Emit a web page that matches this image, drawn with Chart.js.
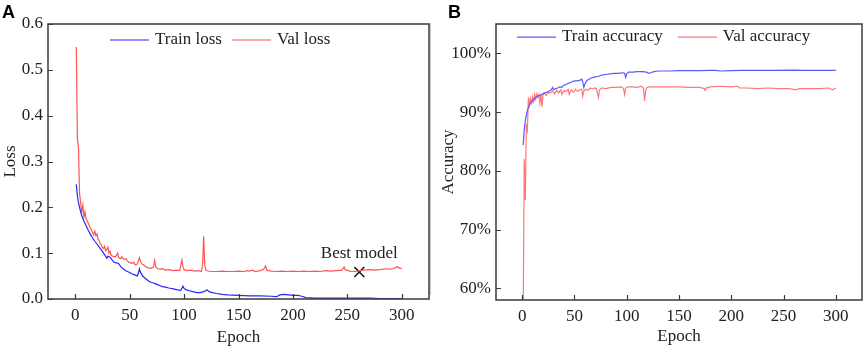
<!DOCTYPE html>
<html>
<head>
<meta charset="utf-8">
<script src="https://cdn.jsdelivr.net/npm/chart.js@4.4.0/dist/chart.umd.min.js"></script>
<style>
  html, body { margin: 0; padding: 0; background: #fff; }
  #wrap { position: relative; width: 865px; height: 348px; overflow: hidden; }
  canvas { position: absolute; top: 0; }
  #lossCanvas { left: 0; }
  #accCanvas { left: 430px; }
  .tag { position: absolute; top: 3px; font: bold 18px "Liberation Sans", Arial, sans-serif; line-height: 1; color: #000; }
  #sep { position: absolute; left: 430px; top: 23px; width: 1px; height: 272px; background: #c8c8c8; }
</style>
</head>
<body>
<div id="wrap">
  <canvas id="lossCanvas" width="430" height="348"></canvas>
  <canvas id="accCanvas" width="435" height="348"></canvas>
  <div id="sep"></div>
  <div class="tag" style="left:2px">A</div>
  <div class="tag" style="left:448px">B</div>
</div>
<script>
// ---- data ----
const epochTicks = [0, 50, 100, 150, 200, 250, 300];
const lossTicks = [0, 0.1, 0.2, 0.3, 0.4, 0.5, 0.6];
const accTicks = [60, 70, 80, 90, 100];

const trainLossEpochs = [
  1, 2, 3, 4, 5, 6, 7, 8, 10, 12,
  14, 16, 18, 20, 22, 24, 26, 28, 29, 30,
  32, 34, 36, 38, 40, 42, 44, 46, 48, 50,
  52, 55, 57, 58, 59, 60, 62, 64, 66, 68,
  70, 72, 75, 78, 80, 83, 86, 90, 94, 97,
  99, 100, 102, 105, 108, 112, 115, 118, 120, 121,
  123, 126, 130, 135, 140, 150, 160, 170, 180, 185,
  188, 192, 196, 200, 205, 208, 212, 220, 230, 240,
  250, 260, 270, 280, 290, 300
];
const trainLoss = [
  .25, .225, .21, .2, .19, .182, .176, .17, .16, .15,
  .141, .133, .126, .12, .113, .107, .1, .093, .089, .093,
  .091, .085, .08, .079, .077, .07, .066, .062, .06, .058,
  .055, .052, .05, .056, .066, .058, .05, .046, .042, .038,
  .036, .035, .032, .029, .027, .026, .024, .022, .02, .019,
  .028, .023, .02, .018, .016, .014, .014, .016, .018, .02,
  .016, .014, .012, .01, .009, .008, .007, .007, .006, .005,
  .009, .01, .009, .008, .008, .006, .003, .002, .002, .002,
  .002, .002, .002, .001, .001, .001
];

const valLossEpochs = [
  1, 2, 3, 4, 5, 6, 7, 8, 9, 10,
  11, 12, 13, 14, 15, 16, 17, 18, 19, 20,
  21, 22, 23, 24, 25, 26, 27, 28, 29, 30,
  31, 32, 33, 35, 37, 39, 40, 42, 43, 45,
  47, 48, 50, 52, 54, 55, 57, 59, 60, 61,
  63, 65, 67, 70, 72, 73, 74, 76, 78, 80,
  83, 86, 90, 93, 96, 98, 99, 100, 103, 106,
  110, 113, 116, 117, 118, 119, 120, 122, 125, 130,
  135, 140, 145, 150, 155, 158, 160, 163, 165, 170,
  173, 175, 176, 180, 185, 190, 195, 200, 205, 210,
  215, 220, 225, 230, 235, 240, 245, 247, 248, 252,
  256, 260, 265, 270, 275, 280, 285, 290, 294, 296,
  298, 300
];
const valLoss = [
  .55, .35, .33, .23, .21, .19, .205, .18, .19, .175,
  .17, .165, .16, .155, .15, .145, .14, .148, .138, .142,
  .13, .128, .12, .118, .112, .11, .115, .105, .108, .113,
  .1, .104, .095, .093, .092, .1, .09, .088, .092, .086,
  .088, .082, .08, .078, .08, .074, .076, .09, .082, .077,
  .074, .07, .068, .067, .07, .084, .07, .066, .065, .066,
  .063, .064, .062, .063, .062, .085, .07, .064, .062, .063,
  .061, .062, .06, .075, .137, .075, .063, .061, .06, .06,
  .061, .06, .06, .061, .06, .062, .061, .063, .06, .062,
  .065, .072, .063, .061, .06, .061, .06, .061, .06, .061,
  .06, .061, .06, .062, .061, .062, .063, .07, .064, .061,
  .06, .061, .063, .064, .063, .064, .066, .065, .068, .071,
  .067, .067
];

const bestEpoch = [261];
const bestLoss = [0.059];
const bestModelLabel = "Best model";

const trainAccEpochs = [
  1, 2, 3, 4, 5, 6, 7, 8, 10, 12,
  14, 16, 18, 20, 22, 24, 26, 28, 29, 30,
  32, 34, 36, 38, 40, 42, 44, 46, 48, 50,
  52, 55, 57, 58, 59, 60, 62, 64, 66, 68,
  70, 73, 76, 80, 84, 88, 92, 96, 98, 99,
  100, 102, 106, 110, 115, 119, 121, 123, 126, 130,
  140, 150, 160, 170, 180, 185, 190, 200, 210, 220,
  240, 260, 270, 280, 300
];
const trainAcc = [
  84.4, 87, 88.5, 89.5, 90.3, 90.8, 91.2, 91.5, 91.9, 92.3,
  92.6, 92.8, 92.9, 93.1, 93.3, 93.4, 93.6, 93.8, 94.2, 93.8,
  94.0, 94.1, 94.3, 94.2, 94.6, 94.7, 94.9, 95.0, 95.2, 95.3,
  95.3, 95.4, 95.6, 95.1, 94.2, 94.8, 95.4, 95.6, 95.8, 95.9,
  96.0, 96.1, 96.3, 96.4, 96.5, 96.6, 96.6, 96.7, 96.6, 95.9,
  96.5, 96.8, 96.8, 96.9, 96.9, 96.8, 96.6, 96.7, 96.9, 97.0,
  97.0, 97.05, 97.05, 97.05, 97.1, 97.1, 97.0, 97.05, 97.1, 97.1,
  97.1, 97.15, 97.1, 97.1, 97.1
];

const valAccEpochs = [
  1, 2, 3, 4, 5, 6, 7, 8, 9, 10,
  11, 12, 13, 14, 15, 16, 17, 18, 19, 20,
  21, 23, 25, 27, 29, 31, 33, 35, 37, 38,
  40, 42, 44, 45, 47, 49, 51, 53, 55, 57,
  58, 59, 61, 63, 65, 67, 69, 71, 73, 74,
  76, 80, 85, 90, 95, 97, 98, 99, 101, 105,
  110, 114, 116, 117, 118, 119, 121, 125, 130, 140,
  150, 160, 170, 174, 175, 176, 180, 190, 200, 206,
  208, 215, 225, 235, 245, 255, 262, 265, 275, 285,
  293, 297, 300
];
const valAcc = [
  55, 82, 75, 88, 87, 92.5, 91.2, 92.3, 91.5, 92.6,
  91.8, 93.0, 92.2, 93.1, 92.5, 93.0, 91.5, 93.1, 90.9, 93.0,
  93.3, 92.8, 93.4, 93.2, 93.6, 93.1, 93.7, 93.3, 93.8, 93.0,
  93.7, 93.5, 93.9, 93.0, 93.8, 93.4, 93.9, 93.5, 93.8, 93.9,
  92.7, 93.6, 93.9, 93.7, 94.1, 93.9, 94.1, 94.0, 92.5, 93.8,
  94.1, 94.0, 94.2, 94.2, 94.3, 94.0, 93.0, 94.1, 94.3, 94.3,
  94.2, 94.4, 94.1, 91.9, 93.5, 94.1, 94.3, 94.3, 94.3, 94.3,
  94.3, 94.2, 94.2, 94.0, 93.7, 94.1, 94.3, 94.4, 94.3, 94.4,
  94.1, 94.1, 94.0, 94.1, 94.0, 94.0, 93.8, 94.0, 94.0, 94.0,
  94.1, 93.8, 94.1
];

// ---- helpers ----
const SERIF = '"Liberation Serif", "Times New Roman", serif';
const INK = '#222';

function toPoints(xs, ys) {
  if (xs.length !== ys.length) console.warn("length mismatch", xs.length, ys.length);
  return xs.map((x, i) => ({ x: x, y: ys[i] }));
}

// frame around the plot area plus inward tick marks
const framePlugin = {
  id: "frame",
  afterDatasetsDraw(chart) {
    const { ctx, chartArea: a, scales } = chart;
    ctx.save();
    ctx.strokeStyle = "#3a3a3a";
    ctx.lineWidth = 1.2;
    ctx.beginPath();
    scales.x.ticks.forEach(t => {
      const px = Math.round(scales.x.getPixelForValue(t.value)) + 0.5;
      ctx.moveTo(px, a.bottom);
      ctx.lineTo(px, a.bottom - 5);
    });
    scales.y.ticks.forEach(t => {
      const py = Math.round(scales.y.getPixelForValue(t.value)) + 0.5;
      ctx.moveTo(a.left, py);
      ctx.lineTo(a.left + 5, py);
    });
    ctx.stroke();
    ctx.lineWidth = 1.5;
    ctx.strokeRect(a.left, a.top, a.right - a.left, a.bottom - a.top);
    ctx.restore();
  }
};

// legend drawn inside the plot area, one row: short line then label
function inLegend(dx, dy, gap) {
  return {
    id: "inLegend",
    afterDatasetsDraw(chart) {
      const { ctx, chartArea: a } = chart;
      let x = a.left + dx;
      const y = a.top + dy;
      ctx.save();
      ctx.font = "17px " + SERIF;
      ctx.textAlign = "left";
      ctx.textBaseline = "middle";
      chart.data.datasets.slice(0, 2).forEach(ds => {
        ctx.strokeStyle = ds.borderColor;
        ctx.lineWidth = ds.borderWidth;
        ctx.beginPath();
        ctx.moveTo(x, y + 0.5);
        ctx.lineTo(x + 39, y + 0.5);
        ctx.stroke();
        ctx.fillStyle = INK;
        ctx.fillText(ds.label, x + 45, y);
        x += 45 + ctx.measureText(ds.label).width + gap;
      });
      ctx.restore();
    }
  };
}

// nudge layout padding until the plot area sits where the figure has it
function pinArea(chart, want) {
  for (let k = 0; k < 3; k++) {
    const a = chart.chartArea;
    const p = chart.config.options.layout.padding;
    const dl = want.left - a.left, dt = want.top - a.top;
    const dr = a.right - want.right, db = a.bottom - want.bottom;
    if (Math.abs(dl) + Math.abs(dt) + Math.abs(dr) + Math.abs(db) < 0.5) break;
    p.left += dl; p.top += dt; p.right += dr; p.bottom += db;
    chart.update();
  }
}

function baseOptions(cfg) {
  return {
    responsive: false,
    animation: false,
    devicePixelRatio: 1,
    layout: { autoPadding: false, padding: { top: cfg.top, right: cfg.right, bottom: 0, left: 0 } },
    elements: { point: { radius: 0 }, line: { tension: 0 } },
    plugins: {
      tooltip: { enabled: false },
      legend: { display: false }
    },
    scales: {
      x: {
        type: "linear",
        min: -25,
        max: 325,
        afterBuildTicks: s => { s.ticks = epochTicks.map(v => ({ value: v })); },
        afterFit: s => { s.height = cfg.xAxisH; s.paddingLeft = 0; s.paddingRight = 0; },
        grid: { display: false, drawTicks: false },
        border: { display: false },
        ticks: { color: INK, padding: 6, font: { family: SERIF, size: 17 } },
        title: { display: true, text: "Epoch", color: INK, padding: { top: 0, bottom: cfg.xTitlePad }, font: { family: SERIF, size: 17 } }
      },
      y: {
        type: "linear",
        min: cfg.yMin,
        max: cfg.yMax,
        afterBuildTicks: s => { s.ticks = cfg.yTicks.map(v => ({ value: v })); },
        afterFit: s => { s.width = cfg.yAxisW; s.paddingTop = 0; s.paddingBottom = 0; },
        grid: { display: false, drawTicks: false },
        border: { display: false },
        ticks: { color: INK, padding: 5, font: { family: SERIF, size: 17 }, callback: cfg.yFmt },
        title: { display: true, text: cfg.yTitle, color: INK, padding: { top: cfg.yTitlePad, bottom: 0 }, font: { family: SERIF, size: 17 } }
      }
    }
  };
}

// ---- panel A: loss ----
const lossChart = new Chart(document.getElementById("lossCanvas"), {
  type: "line",
  data: {
    datasets: [
      { label: "Train loss", data: toPoints(trainLossEpochs, trainLoss), borderColor: "rgb(40,40,245)", borderWidth: 1.2 },
      { label: "Val loss", data: toPoints(valLossEpochs, valLoss), borderColor: "rgb(255,85,85)", borderWidth: 1.2 },
      {
        label: bestModelLabel, data: toPoints(bestEpoch, bestLoss), showLine: false,
        pointStyle: "crossRot", pointRadius: 7, borderColor: "#111", borderWidth: 1.5
      }
    ]
  },
  options: baseOptions({
    top: 24, right: 1, xAxisH: 49, yAxisW: 48,
    xTitlePad: 0, yTitlePad: 0, yTitle: "Loss",
    yMin: 0, yMax: 0.6, yTicks: lossTicks, yFmt: v => v.toFixed(1)
  }),
  plugins: [framePlugin, inLegend(62, 15.5, 10), {
    id: "bestLabel",
    afterDatasetsDraw(chart) {
      const p = chart.getDatasetMeta(2).data[0];
      const ctx = chart.ctx;
      ctx.save();
      ctx.fillStyle = INK;
      ctx.font = "17px " + SERIF;
      ctx.textAlign = "center";
      ctx.textBaseline = "middle";
      ctx.fillText(bestModelLabel, p.x, p.y - 18);
      ctx.restore();
    }
  }]
});
pinArea(lossChart, { left: 48, top: 24, right: 429, bottom: 299 });

// ---- panel B: accuracy ----
const accChart = new Chart(document.getElementById("accCanvas"), {
  type: "line",
  data: {
    datasets: [
      { label: "Train accuracy", data: toPoints(trainAccEpochs, trainAcc), borderColor: "rgb(90,90,255)", borderWidth: 1.2 },
      { label: "Val accuracy", data: toPoints(valAccEpochs, valAcc), borderColor: "rgb(255,120,120)", borderWidth: 1.2 }
    ]
  },
  options: baseOptions({
    top: 24, right: 3, xAxisH: 48, yAxisW: 66,
    xTitlePad: 1, yTitlePad: 8, yTitle: "Accuracy",
    yMin: 58, yMax: 105, yTicks: accTicks, yFmt: v => v + "%"
  }),
  plugins: [framePlugin, inLegend(21, 12.7, 15)]
});
pinArea(accChart, { left: 66, top: 24, right: 432, bottom: 300 });
</script>
</body>
</html>
